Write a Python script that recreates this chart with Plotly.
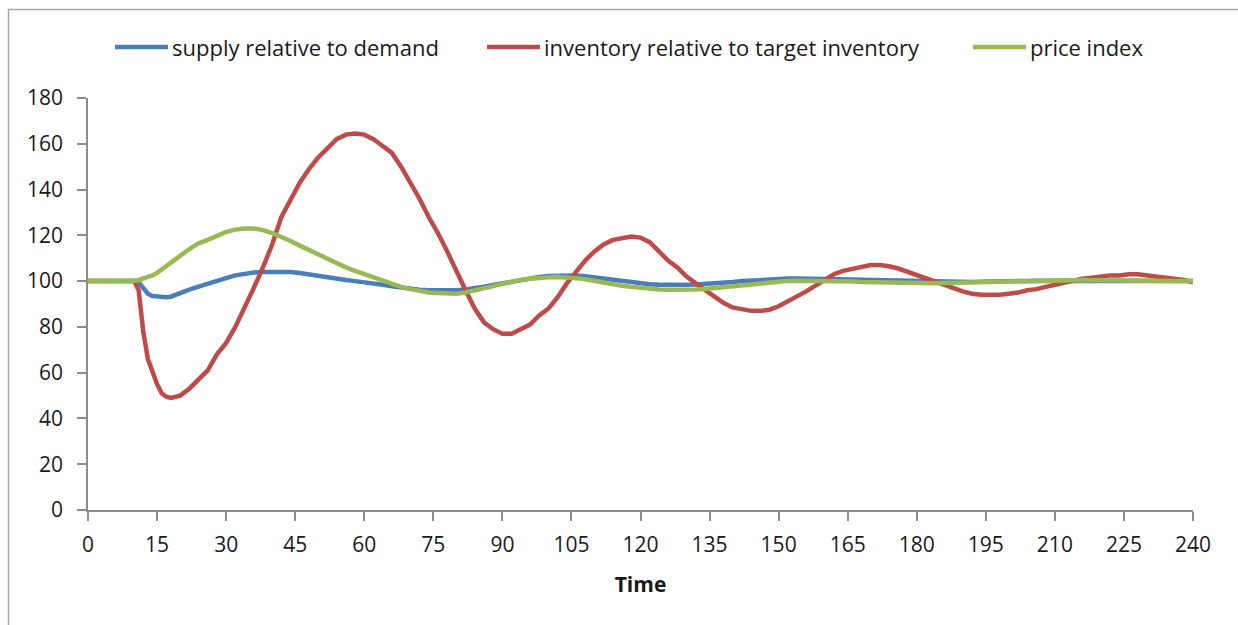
import plotly.graph_objects as go

# Simulation output: time steps and the three indexed series
time = [0, 10, 11, 12, 13, 14, 15, 16, 17, 18, 20, 22, 24, 26, 28, 30, 32, 34, 36, 38,
        40, 42, 44, 46, 48, 50, 52, 54, 56, 58, 60, 62, 64, 66, 68, 70, 72, 74, 76, 78,
        80, 82, 84, 86, 88, 90, 92, 94, 96, 98, 100, 102, 104, 106, 108, 110, 112, 114, 116, 118,
        120, 122, 124, 126, 128, 130, 132, 134, 136, 138, 140, 142, 144, 146, 148, 150, 152, 154, 156, 158,
        160, 162, 164, 166, 168, 170, 172, 174, 176, 178, 180, 182, 184, 186, 188, 190, 192, 194, 196, 198,
        200, 202, 204, 206, 208, 210, 212, 214, 216, 218, 220, 222, 224, 226, 228, 230, 232, 234, 236, 238, 240]

supply = [100, 100, 99.5, 97, 94.5, 93.5, 93.2, 93, 93, 93.2, 95, 96.3, 97.6, 99, 100, 101.3, 102.5, 103.3, 103.8, 104,
          104.1, 104.1, 104, 103.5, 102.8, 102.2, 101.6, 101, 100.5, 100, 99.6, 99, 98.4, 97.8, 97.2, 96.6, 96.2, 96, 95.9, 95.9,
          96, 96.3, 96.8, 97.5, 98.3, 99.1, 99.9, 100.6, 101.3, 101.8, 102.2, 102.4, 102.5, 102.4, 102.1, 101.6, 101, 100.4, 99.8, 99.3,
          98.9, 98.6, 98.4, 98.3, 98.3, 98.4, 98.5, 98.7, 99, 99.3, 99.6, 100, 100.3, 100.6, 100.8, 101, 101.1, 101.1, 101.1, 101,
          101, 100.9, 100.8, 100.7, 100.6, 100.5, 100.4, 100.3, 100.2, 100, 99.8, 99.7, 99.6, 99.6, 99.6, 99.6, 99.6, 99.7, 99.7, 99.8,
          99.9, 100, 100.1, 100.2, 100.2, 100.3, 100.3, 100.3, 100.3, 100.2, 100.2, 100.2, 100.1, 100.1, 100, 100, 100, 100, 100, 100, 100]

inventory = [100, 100, 96, 78, 66, 60, 55, 51, 49.5, 49, 50, 53, 57, 61, 68, 73, 80, 88, 97, 106,
             116, 128, 136, 143, 149, 154, 158, 162, 164, 164.5, 164, 162, 159, 156, 150, 143, 136, 128, 121, 113,
             104, 96, 88, 82, 79, 77, 77, 79, 81, 85, 88, 93, 99, 104, 109, 113, 116, 118, 119, 119.5,
             119, 117, 113, 109, 106, 102, 99, 96, 93, 90.5, 88.5, 87.5, 87, 87, 87.5, 89, 91, 93, 95.5, 98, 100.5,
             103, 104.5, 105.5, 106.5, 107, 107, 106.5, 105.5, 104, 102.5, 101, 99.5, 98, 96.5, 95.5, 94.5, 94, 94, 94, 94.5,
             95, 96, 96.5, 97.5, 98.5, 99.5, 100.5, 101, 101.5, 102, 102.5, 102.5, 103, 103, 102.5, 102, 101.5, 101, 100.5, 99.5, 98.5]

price = [100, 100, 100.5, 101, 101.8, 102.5, 103.6, 105, 106.5, 108, 111, 114, 116.5, 118, 120, 121.5, 122.5, 123, 123, 122.3,
         121, 119.5, 117.5, 115.5, 113.5, 111.5, 109.5, 108, 106, 104.5, 103, 101.5, 100, 99, 97.5, 96.5, 95.5, 95, 94.8, 94.5,
         94.5, 95, 95.8, 96.8, 97.8, 98.8, 99.8, 100.5, 101, 101.5, 101.7, 101.8, 101.7, 101.3, 100.8, 100, 99.3, 98.6, 98, 97.5,
         97, 96.7, 96.3, 96.2, 96.1, 96.1, 96.3, 96.6, 97, 97.5, 98, 98.5, 99, 99.4, 99.7, 100, 100.1, 100.2, 100.2, 100.2,
         100.2, 100.1, 100, 99.8, 99.6, 99.5, 99.4, 99.3, 99.2, 99.1, 99, 99, 99.1, 99.2, 99.3, 99.5, 99.6, 99.7, 99.8, 99.9,
         100, 100.1, 100.3, 100.4, 100.5, 100.5, 100.5, 100.5, 100.5, 100.4, 100.3, 100.3, 100.2, 100.2, 100.1, 100, 100, 100, 100, 100, 100]

series_names = ["supply relative to demand", "inventory relative to target inventory", "price index"]
series_values = [supply, inventory, price]
series_colors = ["#4A7EBB", "#BE4B48", "#98B954"]

x_ticks = list(range(0, 241, 15))
y_ticks = list(range(0, 181, 20))

FONT = "'Open Sans', Lato, sans-serif"

W, H = 1238, 625
L, R, T, B = 88, 45, 98, 115
pw, ph = W - L - R, H - T - B


def px_x(p):
    return (p - L) / pw


def px_y(p):
    return (H - B - p) / ph


fig = go.Figure()
for name, vals, color in zip(series_names, series_values, series_colors):
    fig.add_trace(go.Scatter(
        x=time, y=vals, name=name, mode="lines",
        line=dict(color=color, width=4.5),
        showlegend=False,
    ))

# legend row along the top: a coloured key line followed by the series name
key_left_px = [115, 487, 973]
key_len_px = 53
legend_y = px_y(47)
shapes = []
annotations = []
for name, color, left in zip(series_names, series_colors, key_left_px):
    shapes.append(dict(
        type="line", xref="paper", yref="paper",
        x0=px_x(left), x1=px_x(left + key_len_px), y0=legend_y, y1=legend_y,
        line=dict(color=color, width=4.5),
    ))
    annotations.append(dict(
        text=name, xref="paper", yref="paper",
        x=px_x(left + key_len_px + 2), y=px_y(46.5),
        xanchor="left", yanchor="middle", showarrow=False,
        font=dict(family=FONT, size=22, color="#1a1a1a"),
    ))

# outer chart frame
shapes.append(dict(
    type="rect", xref="paper", yref="paper",
    x0=px_x(8.5), x1=px_x(W + 10), y0=px_y(H + 10), y1=px_y(9.5),
    line=dict(color="#A6A6A6", width=1.5), fillcolor="rgba(0,0,0,0)", layer="below",
))

fig.update_layout(
    width=W, height=H,
    margin=dict(l=L, r=R, t=T, b=B, autoexpand=False),
    paper_bgcolor="white", plot_bgcolor="white",
    font=dict(family=FONT, size=21, color="#1a1a1a"),
    showlegend=False,
    xaxis=dict(
        range=[0, 240], tickvals=x_ticks, ticktext=[str(v) for v in x_ticks],
        showgrid=False, zeroline=False,
        showline=True, linecolor="#8C8C8C", linewidth=1.5,
        ticks="outside", ticklen=9, tickcolor="#8C8C8C", tickwidth=1.5,
        tickfont=dict(size=21), ticklabelstandoff=6,
        title=dict(text="<b>Time</b>", font=dict(size=21), standoff=20),
    ),
    yaxis=dict(
        range=[0, 180], tickvals=y_ticks, ticktext=[str(v) for v in y_ticks],
        showgrid=False, zeroline=False,
        showline=True, linecolor="#8C8C8C", linewidth=1.5,
        ticks="outside", ticklen=9, tickcolor="#8C8C8C", tickwidth=1.5,
        tickfont=dict(size=21), ticklabelstandoff=10,
    ),
    shapes=shapes,
    annotations=annotations,
)

fig.write_html("out.html")
